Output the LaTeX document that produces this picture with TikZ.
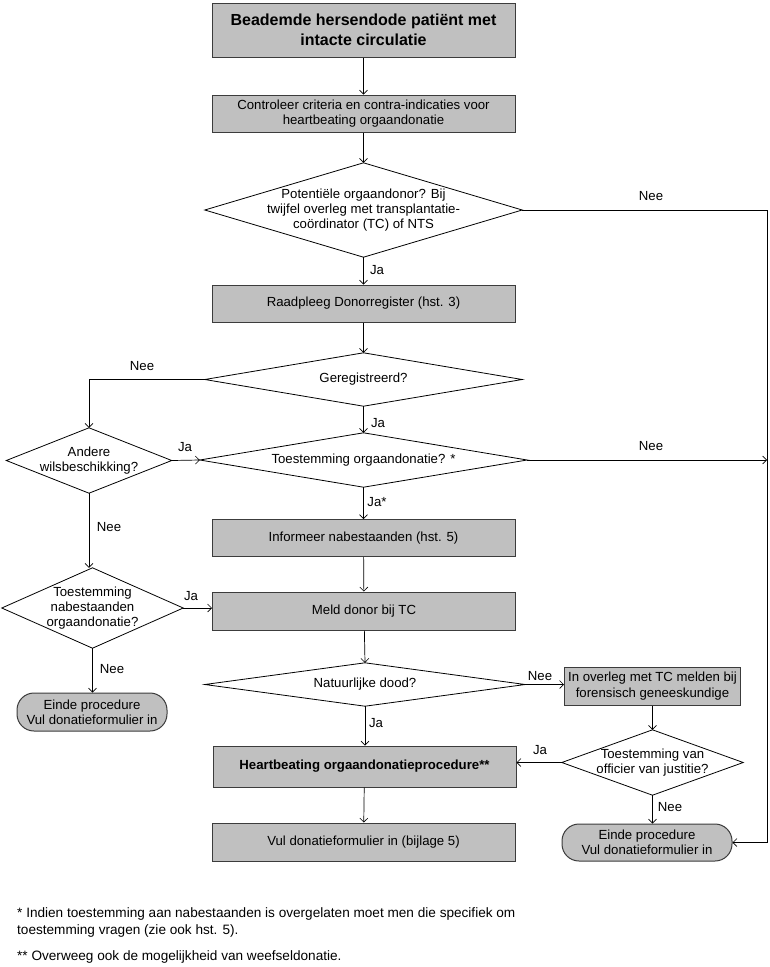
\documentclass[tikz,border=0pt]{standalone}
\usepackage{fontspec}
\setmainfont{Liberation Sans}
\usetikzlibrary{arrows.meta}
\definecolor{boxgray}{RGB}{192,192,192}
\definecolor{edgegray}{RGB}{60,60,60}
\tikzset{
  box/.style={draw=edgegray, line width=1pt, fill=boxgray, minimum width=303, minimum height=37, align=center, inner sep=0, font=\fontsize{13.2}{15.3}\selectfont},
  term/.style={box, rounded corners=17},
  dia/.style={draw=none, inner sep=0, align=center, font=\fontsize{13.2}{15.3}\selectfont},
  diaedge/.style={draw=black, line width=0.8pt},
  arr/.style={draw=black, line width=0.7pt, -{Straight Barb[length=4pt,width=8pt,line width=0.6pt]}},
  lbl/.style={inner sep=0, font=\fontsize{13.2}{15.3}\selectfont},
  foot/.style={inner sep=0, anchor=west, font=\fontsize{13.6}{16}\selectfont}
}
\begin{document}
\begin{tikzpicture}[x=1pt,y=-1pt]
\useasboundingbox (0,0) rectangle (770,967);
\fill[white] (0,0) rectangle (770,967);
% boxes
\node[box, minimum height=54, font=\bfseries\fontsize{16}{20}\selectfont] (b1) at (363.5,30) {Beademde hersendode patiënt met\\intacte circulatie};
\node[box] (b2) at (363.5,113.5) {Controleer criteria en contra-indicaties voor\\heartbeating orgaandonatie};
\node[box] (b3) at (363.5,303.5) {Raadpleeg Donorregister (hst. 3)};
\node[box] (b4) at (363.5,538) {Informeer nabestaanden (hst. 5)};
\node[box, minimum height=38] (b5) at (364,611) {Meld donor bij TC};
\node[box, minimum width=176, minimum height=38] (b6) at (652.5,686) {In overleg met TC melden bij\\forensisch geneeskundige};
\node[box, minimum height=41, font=\bfseries\fontsize{13.2}{15.3}\selectfont] (b7) at (364.5,766.5) {Heartbeating orgaandonatieprocedure**};
\node[box, minimum height=38] (b8) at (363.5,842) {Vul donatieformulier in (bijlage 5)};
\node[term, minimum width=150, minimum height=38] (e1) at (92,712) {Einde procedure\\Vul donatieformulier in};
\node[term, minimum width=170, minimum height=37] (e2) at (647,842.5) {Einde procedure\\Vul donatieformulier in};
% diamonds
\node[dia, minimum width=317, minimum height=94] (d1) at (363.5,210) {Potentiële orgaandonor? Bij\\twijfel overleg met transplantatie-\\coördinator (TC) of NTS};
\node[dia, minimum width=317, minimum height=53] (d2) at (363.5,379.5) {Geregistreerd?};
\node[dia, minimum width=327, minimum height=54] (d3) at (363.5,460) {Toestemming orgaandonatie? *};
\node[dia, minimum width=165, minimum height=65] (d4) at (89,460.5) {Andere\\wilsbeschikking?};
\node[dia, minimum width=181, minimum height=80] (d5) at (92.5,608) {Toestemming\\nabestaanden\\orgaandonatie?};
\node[dia, minimum width=320, minimum height=43] (d6) at (365,684.5) {Natuurlijke dood?};
\node[dia, minimum width=181, minimum height=65] (d7) at (652.5,762.5) {Toestemming van\\officier van justitie?};
\foreach \d in {d1,d2,d3,d4,d5,d6,d7}{
  \draw[diaedge] (\d.north) -- (\d.east) -- (\d.south) -- (\d.west) -- cycle;
}
\coordinate (rx) at (767,0);
% connectors
\draw[arr] (b1) -- (b2);
\draw[arr] (b2) -- (d1.north);
\draw[arr] (d1.south) -- (b3);
\draw[arr] (d1.east) -- (d1.east -| rx) -- (rx |- e2.east) -- (e2.east);
\draw[arr] (b3) -- (d2.north);
\draw[arr] (d2.west) -- (d2.west -| d4.north) -- (d4.north);
\draw[arr] (d2.south) -- (d3.north);
\draw[arr] (d3.east) -- (d3.east -| rx);
\draw[arr] (d4.east) -- (d3.west);
\draw[arr] (d3.south) -- (b4);
\draw[arr] (d4.south) -- (d4.south |- d5.north);
\draw[arr] (b4) -- (b5);
\draw[arr] (d5.east) -- (d5.east -| b5.west);
\draw[arr] (d5.south) -- (d5.south |- e1.north);
\draw[arr] (b5) -- (d6.north);
\draw[arr] (d6.east) -- (d6.east -| b6.west);
\draw[arr] (d6.south) -- (d6.south |- b7.north);
\draw[arr] (b6.south) -- (d7.north);
\draw[arr] (d7.west) -- (d7.west -| b7.east);
\draw[arr] (d7.south) -- (d7.south |- e2.north);
\draw[arr] (b7) -- (b8);
% labels
\node[lbl] (l1) at (651,196) {Nee};
\node[lbl] (l2) at (377,270) {Ja};
\node[lbl] (l3) at (142,366) {Nee};
\node[lbl] (l4) at (378,423) {Ja};
\node[lbl] (l5) at (651,446) {Nee};
\node[lbl] (l6) at (185,447) {Ja};
\node[lbl] (l7) at (377,502) {Ja*};
\node[lbl] (l8) at (109,527) {Nee};
\node[lbl] (l9) at (191,596) {Ja};
\node[lbl] (l10) at (112,669) {Nee};
\node[lbl] (l11) at (540,676) {Nee};
\node[lbl] (l12) at (376,723) {Ja};
\node[lbl] (l13) at (540,750) {Ja};
\node[lbl] (l14) at (670,807) {Nee};
% footnotes
\node[foot] (f1) at (17,914) {* Indien toestemming aan nabestaanden is overgelaten moet men die specifiek om};
\node[foot] (f2) at (17,931) {toestemming vragen (zie ook hst. 5).};
\node[foot] (f3) at (17,957) {** Overweeg ook de mogelijkheid van weefseldonatie.};
\end{tikzpicture}
\end{document}
